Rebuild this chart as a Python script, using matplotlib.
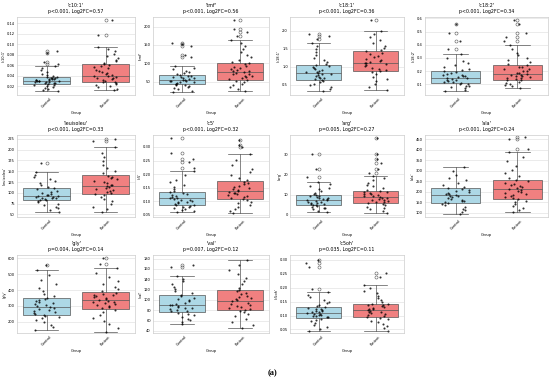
import numpy as np
import pandas as pd
import matplotlib
matplotlib.use("Agg")
import matplotlib.pyplot as plt
import seaborn as sns

# Groups and per-metabolite summary
groups = ["Control", "Patient"]
metabolites = ["'c10:1'", "'tmf'", "'c18:1'", "'c18:2'", "'leuisoleu'", "'c5'",
               "'arg'", "'ala'", "'gly'", "'val'", "'c5oh'"]
p_labels = ["p<0.001", "p<0.001", "p<0.001", "p<0.001", "p<0.001", "p<0.001",
            "p=0.005", "p<0.001", "p=0.004", "p=0.007", "p=0.035"]
log2fc = [0.57, 0.56, 0.36, 0.34, 0.33, 0.32, 0.27, 0.24, 0.14, 0.12, 0.11]

# box stats: whisker low, q1, median, q3, whisker high
control_box = [
    [0.010, 0.024, 0.030, 0.037, 0.058],
    [22, 43, 55, 69, 94],
    [0.32, 0.64, 0.84, 1.05, 1.66],
    [0.05, 0.11, 0.15, 0.205, 0.33],
    [56, 83, 93, 112, 148],
    [0.059, 0.086, 0.112, 0.134, 0.211],
    [1.3, 4.7, 7.2, 9.8, 16.5],
    [92, 149, 187, 218, 317],
    [146, 242, 296, 352, 525],
    [53, 77, 91, 110, 147],
    [0.043, 0.092, 0.109, 0.129, 0.183],
]
patient_box = [
    [0.012, 0.027, 0.040, 0.062, 0.095],
    [26, 56, 77, 101, 164],
    [0.36, 0.88, 1.12, 1.43, 1.98],
    [0.075, 0.137, 0.18, 0.245, 0.40],
    [55, 97, 116, 141, 206],
    [0.055, 0.107, 0.136, 0.173, 0.273],
    [1.0, 6.0, 8.8, 11.8, 19.2],
    [102, 167, 215, 256, 392],
    [134, 283, 337, 385, 537],
    [45, 80, 98, 120, 177],
    [0.046, 0.095, 0.121, 0.143, 0.210],
]
control_fliers = [
    [0.062, 0.066, 0.084, 0.088],
    [118, 122, 148, 152, 156],
    [1.78, 1.86, 1.90],
    [0.37, 0.43, 0.49, 0.555],
    [168],
    [0.224, 0.245, 0.255, 0.277, 0.332],
    [18.8, 22.7, 30.0],
    [],
    [560],
    [164, 168],
    [0.194, 0.276, 0.290, 0.300],
]
patient_fliers = [
    [0.118, 0.147],
    [175, 185, 193, 218],
    [2.31],
    [0.43, 0.46, 0.49, 0.555, 0.59],
    [219, 225],
    [0.299, 0.309, 0.327],
    [20.5, 22.5, 25.5, 27.5, 30.0, 38.0],
    [402, 452, 461],
    [563, 600],
    [],
    [0.237, 0.252],
]

# individual samples (approximate reading of the jittered points)
control_points = [
    [0.010, 0.013, 0.015, 0.017, 0.019, 0.020, 0.022, 0.023, 0.024,
     0.025, 0.025, 0.026, 0.027, 0.027, 0.028, 0.029, 0.029, 0.030, 0.030, 0.031,
     0.031, 0.032, 0.033, 0.033, 0.034, 0.035, 0.036, 0.036, 0.037,
     0.038, 0.040, 0.042, 0.044, 0.047, 0.050, 0.054, 0.058, 0.062, 0.066, 0.084, 0.088],
    [22, 26, 29, 32, 35, 38, 40, 42, 43, 45, 46, 48, 49, 51, 52, 53, 55, 56, 57, 59,
     60, 62, 64, 65, 67, 69, 71, 74, 77, 80, 84, 88, 94, 118, 122, 148, 152, 156],
    [0.32, 0.38, 0.44, 0.49, 0.53, 0.57, 0.60, 0.63, 0.65, 0.68, 0.70, 0.72, 0.75,
     0.77, 0.79, 0.81, 0.83, 0.85, 0.87, 0.89, 0.92, 0.94, 0.97, 1.00, 1.03, 1.05,
     1.08, 1.13, 1.18, 1.24, 1.32, 1.40, 1.50, 1.58, 1.66, 1.78, 1.86, 1.90],
    [0.05, 0.06, 0.07, 0.08, 0.085, 0.09, 0.10, 0.105, 0.11, 0.115, 0.12, 0.125,
     0.13, 0.135, 0.14, 0.145, 0.15, 0.155, 0.16, 0.165, 0.17, 0.175, 0.18, 0.19,
     0.195, 0.20, 0.21, 0.22, 0.235, 0.25, 0.265, 0.28, 0.30, 0.33,
     0.37, 0.43, 0.49, 0.555],
    [56, 60, 64, 68, 72, 75, 78, 81, 83, 84, 86, 87, 88, 89, 90, 91, 92, 93, 94, 96,
     98, 100, 102, 105, 108, 111, 114, 118, 122, 127, 132, 137, 142, 148, 168],
    [0.059, 0.063, 0.067, 0.071, 0.074, 0.077, 0.080, 0.083, 0.086, 0.088, 0.091,
     0.093, 0.096, 0.098, 0.101, 0.103, 0.106, 0.108, 0.111, 0.113, 0.116, 0.119,
     0.122, 0.125, 0.129, 0.133, 0.138, 0.145, 0.152, 0.160, 0.170, 0.180, 0.195,
     0.211, 0.224, 0.245, 0.255, 0.277, 0.332],
    [1.3, 2.0, 2.6, 3.1, 3.5, 3.9, 4.3, 4.6, 4.8, 5.1, 5.4, 5.7, 6.0, 6.3, 6.5, 6.8,
     7.1, 7.3, 7.6, 7.9, 8.2, 8.5, 8.8, 9.1, 9.4, 9.8, 10.3, 11.0, 11.8, 12.6, 13.5,
     14.5, 15.5, 16.5, 18.8, 22.7, 30.0],
    [92, 102, 112, 120, 128, 135, 141, 146, 150, 154, 158, 162, 166, 170, 174, 178,
     182, 186, 189, 192, 196, 200, 204, 208, 212, 217, 224, 233, 243, 255, 268, 282,
     298, 317],
    [146, 165, 182, 197, 210, 222, 232, 240, 245, 250, 256, 262, 268, 274, 280, 286,
     292, 298, 304, 310, 317, 323, 330, 337, 344, 351, 362, 378, 396, 416, 438, 462,
     492, 525, 560],
    [53, 57, 61, 64, 67, 70, 73, 75, 78, 79, 81, 82, 84, 85, 87, 88, 90, 91, 93, 95,
     97, 99, 101, 104, 107, 110, 113, 117, 121, 126, 131, 136, 141, 147, 164, 168],
    [0.043, 0.052, 0.060, 0.067, 0.073, 0.079, 0.084, 0.089, 0.093, 0.095, 0.097,
     0.099, 0.101, 0.103, 0.105, 0.107, 0.109, 0.111, 0.113, 0.115, 0.117, 0.119,
     0.122, 0.124, 0.126, 0.129, 0.133, 0.138, 0.144, 0.150, 0.157, 0.165, 0.174,
     0.183, 0.194, 0.276, 0.290, 0.300],
]
patient_points = [
    [0.012, 0.015, 0.018, 0.020, 0.022, 0.024, 0.026, 0.027, 0.028, 0.030, 0.032,
     0.033, 0.035, 0.036, 0.038, 0.039, 0.040, 0.041, 0.043, 0.045, 0.047, 0.049,
     0.051, 0.054, 0.056, 0.058, 0.060, 0.062, 0.064, 0.067, 0.070, 0.074, 0.078,
     0.082, 0.087, 0.091, 0.095, 0.118, 0.147],
    [26, 31, 36, 40, 44, 48, 52, 55, 57, 60, 62, 65, 67, 70, 72, 74, 76, 78, 80, 83,
     85, 88, 91, 94, 97, 100, 104, 110, 116, 123, 130, 138, 147, 156, 164,
     175, 185, 193, 218],
    [0.36, 0.45, 0.53, 0.60, 0.67, 0.73, 0.79, 0.85, 0.89, 0.92, 0.95, 0.98, 1.01,
     1.04, 1.07, 1.10, 1.12, 1.14, 1.17, 1.20, 1.23, 1.27, 1.31, 1.35, 1.39, 1.43,
     1.47, 1.53, 1.59, 1.66, 1.74, 1.82, 1.90, 1.98, 2.31],
    [0.075, 0.085, 0.095, 0.105, 0.11, 0.12, 0.13, 0.135, 0.14, 0.145, 0.15, 0.155,
     0.16, 0.165, 0.17, 0.175, 0.18, 0.185, 0.19, 0.20, 0.205, 0.215, 0.22, 0.23,
     0.235, 0.245, 0.255, 0.27, 0.285, 0.30, 0.32, 0.34, 0.37, 0.40,
     0.43, 0.46, 0.49, 0.555, 0.59],
    [55, 62, 68, 74, 80, 85, 90, 94, 97, 99, 101, 104, 106, 108, 111, 113, 115, 117,
     119, 122, 125, 128, 131, 134, 137, 140, 145, 151, 158, 165, 173, 182, 192, 206,
     219, 225],
    [0.055, 0.064, 0.072, 0.080, 0.087, 0.093, 0.099, 0.104, 0.108, 0.111, 0.115,
     0.118, 0.122, 0.125, 0.129, 0.132, 0.135, 0.138, 0.142, 0.146, 0.150, 0.154,
     0.158, 0.163, 0.168, 0.172, 0.178, 0.187, 0.196, 0.207, 0.220, 0.235, 0.252,
     0.273, 0.299, 0.309, 0.327],
    [1.0, 1.8, 2.6, 3.3, 4.0, 4.7, 5.3, 5.8, 6.1, 6.5, 6.8, 7.2, 7.5, 7.9, 8.2, 8.5,
     8.8, 9.1, 9.5, 9.8, 10.2, 10.5, 10.9, 11.2, 11.5, 11.8, 12.4, 13.2, 14.1, 15.0,
     16.0, 17.1, 18.2, 19.2, 20.5, 22.5, 25.5, 27.5, 30.0, 38.0],
    [102, 113, 124, 134, 143, 151, 158, 164, 169, 174, 179, 184, 189, 194, 199, 204,
     209, 214, 219, 224, 229, 234, 239, 244, 250, 255, 264, 276, 290, 306, 324, 345,
     368, 392, 402, 452, 461],
    [134, 160, 185, 207, 227, 245, 262, 277, 286, 292, 298, 304, 310, 316, 322, 328,
     334, 339, 344, 350, 356, 361, 367, 372, 378, 384, 393, 405, 420, 437, 457, 480,
     507, 537, 563, 600],
    [45, 52, 58, 63, 68, 72, 76, 79, 81, 83, 85, 87, 89, 91, 93, 95, 97, 99, 101, 103,
     105, 108, 111, 114, 117, 120, 124, 130, 136, 143, 150, 158, 167, 177],
    [0.046, 0.055, 0.063, 0.070, 0.076, 0.082, 0.087, 0.092, 0.096, 0.099, 0.102,
     0.105, 0.108, 0.111, 0.114, 0.117, 0.120, 0.122, 0.125, 0.128, 0.131, 0.134,
     0.137, 0.139, 0.141, 0.143, 0.148, 0.155, 0.163, 0.171, 0.180, 0.189, 0.199,
     0.210, 0.237, 0.252],
]

y_limits = [(0.003, 0.152), (14, 226), (0.22, 2.38), (0.02, 0.61), (44, 234),
            (0.042, 0.344), (-1.2, 39.7), (80, 471), (130, 621), (36, 187),
            (0.037, 0.318)]
y_ticks = [
    [0.02, 0.04, 0.06, 0.08, 0.10, 0.12, 0.14],
    [50, 100, 150, 200],
    [0.5, 1.0, 1.5, 2.0],
    [0.1, 0.2, 0.3, 0.4, 0.5, 0.6],
    [50, 75, 100, 125, 150, 175, 200, 225],
    [0.05, 0.10, 0.15, 0.20, 0.25, 0.30],
    [0, 10, 20, 30],
    [100, 150, 200, 250, 300, 350, 400, 450],
    [200, 300, 400, 500, 600],
    [40, 60, 80, 100, 120, 140, 160, 180],
    [0.05, 0.10, 0.15, 0.20, 0.25, 0.30],
]

box_colors = ["lightblue", "lightcoral"]
edge = "#555555"

fig = plt.figure(figsize=(5.5, 3.79), dpi=100)
W, H = 550, 379
cols_px = [(17, 135), (153, 269), (290, 404), (425, 548)]
rows_px = [(17, 95), (135, 217), (255, 333)]

for i, name in enumerate(metabolites):
    r, c = divmod(i, 4)
    x0, x1 = cols_px[c]
    y0, y1 = rows_px[r]
    ax = fig.add_axes([x0 / W, 1 - y1 / H, (x1 - x0) / W, (y1 - y0) / H])

    stats = []
    for box, fl, g in [(control_box[i], control_fliers[i], groups[0]),
                       (patient_box[i], patient_fliers[i], groups[1])]:
        lo, q1, med, q3, hi = box
        stats.append(dict(whislo=lo, q1=q1, med=med, q3=q3, whishi=hi,
                          fliers=fl, label=g))
    bp = ax.bxp(stats, positions=[0, 1], widths=0.8, patch_artist=True,
                boxprops=dict(edgecolor=edge, linewidth=0.5),
                whiskerprops=dict(color=edge, linewidth=0.5),
                capprops=dict(color=edge, linewidth=0.5),
                medianprops=dict(color=edge, linewidth=0.5),
                flierprops=dict(marker="o", markersize=2.2, markerfacecolor="none",
                                markeredgecolor=edge, markeredgewidth=0.4))
    for patch, col in zip(bp["boxes"], box_colors):
        patch.set_facecolor(col)

    df = pd.DataFrame({
        "Group": [groups[0]] * len(control_points[i]) + [groups[1]] * len(patient_points[i]),
        "value": control_points[i] + patient_points[i],
    })
    sns.stripplot(data=df, x="Group", y="value", order=groups, color="black",
                  size=1.5, jitter=0.22, alpha=0.8, ax=ax, zorder=3)

    ax.set_xlim(-0.5, 1.5)
    ax.set_ylim(*y_limits[i])
    ax.set_yticks(y_ticks[i])
    ax.set_xticks([0, 1])
    ax.set_xticklabels(groups, rotation=45, fontsize=2.6)
    ax.set_xlabel("Group", fontsize=2.6, labelpad=1.5)
    ax.set_ylabel(name, fontsize=2.6, labelpad=1)
    ax.set_title(f"{name}\n{p_labels[i]}, Log2FC={log2fc[i]:.2f}",
                 fontsize=3.4, pad=3, linespacing=1.2)
    ax.tick_params(length=0, labelsize=2.6, pad=1.5)
    ax.grid(axis="y", color="#e3e3e3", linewidth=0.5)
    ax.grid(axis="x", visible=False)
    ax.set_axisbelow(True)
    for s in ax.spines.values():
        s.set_color("#cccccc")
        s.set_linewidth(0.5)

fig.text(272 / W, 1 - 373 / H, "(a)", ha="center", va="center", fontsize=6,
         fontweight="bold", family="Liberation Serif")

fig.savefig("out.png", dpi=100)
